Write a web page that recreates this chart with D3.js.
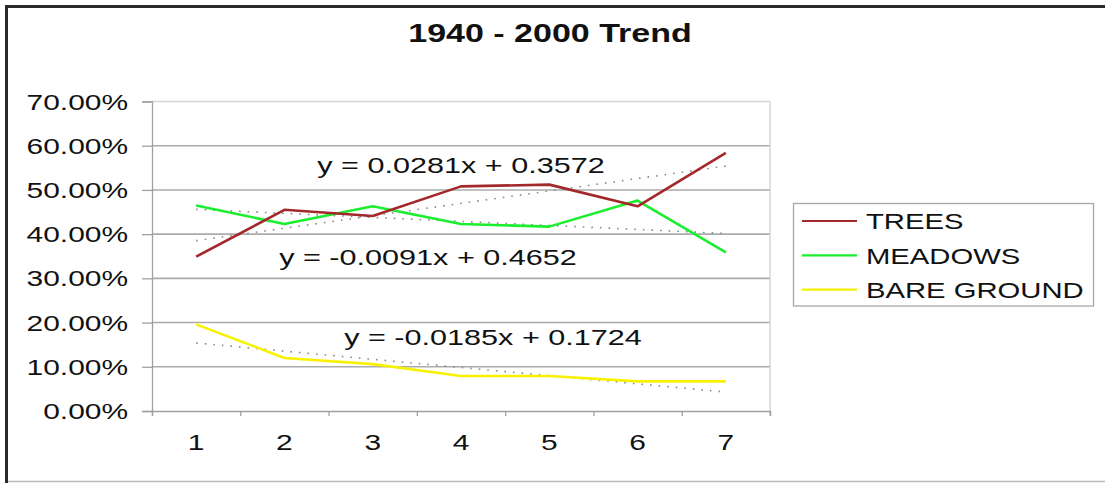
<!DOCTYPE html>
<html>
<head>
<meta charset="utf-8">
<script src="https://cdn.jsdelivr.net/npm/d3@7"></script>
<style>
  body { margin: 0; background: #fff; }
  text { font-family: "Liberation Sans", Arial, sans-serif; fill: #111; }
</style>
</head>
<body>
<svg id="chart" width="1105" height="483"></svg>
<script>
// data
var categories = ["1", "2", "3", "4", "5", "6", "7"];
var seriesNames = ["TREES", "MEADOWS", "BARE GROUND"];
var trees = [0.349, 0.455, 0.441, 0.508, 0.512, 0.463, 0.584];
var meadows = [0.465, 0.423, 0.463, 0.423, 0.417, 0.476, 0.359];
var bareGround = [0.196, 0.120, 0.106, 0.079, 0.079, 0.067, 0.067];
// linear trend y = a*x + b
var slopes = [0.0281, -0.0091, -0.0185];
var intercepts = [0.3572, 0.4652, 0.1724];
var yTicks = [0, 0.1, 0.2, 0.3, 0.4, 0.5, 0.6, 0.7];

var colors = ["#a3282b", "#1aee2e", "#f8f200"];
var STRETCH = 1.36; // text in the picture is wide

var svg = d3.select("#chart");

// outer frame
svg.append("line").attr("x1", 6.5).attr("x2", 6.5).attr("y1", 5).attr("y2", 483)
    .attr("stroke", "#2a2a2a").attr("stroke-width", 3);
svg.append("line").attr("x1", 5).attr("x2", 1105).attr("y1", 6.5).attr("y2", 6.5)
    .attr("stroke", "#2a2a2a").attr("stroke-width", 3);
svg.append("line").attr("x1", 8).attr("x2", 1105).attr("y1", 481.5).attr("y2", 481.5)
    .attr("stroke", "#bbb").attr("stroke-width", 1.5);

var plotL = 152, plotR = 770, plotT = 101.5, plotB = 411;

var x = d3.scaleBand().domain(categories).range([plotL, plotR]);
var xp = function(i) { return x(categories[i]) + x.bandwidth() / 2; };
// numeric x (1..7) for trend lines
var xn = d3.scaleLinear().domain([1, 7]).range([xp(0), xp(6)]);
var y = d3.scaleLinear().domain([0, 0.7]).range([plotB, plotT]);

function stretchedText(sel, px, py, size, anchor, txt, weight) {
    sel.append("text")
        .attr("transform", "translate(" + px + "," + py + ") scale(" + STRETCH + ",1)")
        .attr("text-anchor", anchor)
        .attr("font-size", size)
        .attr("font-weight", weight || "normal")
        .text(txt);
}

// title
stretchedText(svg, 550, 41.5, 25, "middle", "1940 - 2000 Trend", "bold");

// gridlines
svg.append("g").selectAll("line")
    .data(yTicks.filter(function(d) { return d > 0; }))
    .enter().append("line")
    .attr("x1", plotL).attr("x2", plotR)
    .attr("y1", function(d) { return y(d); })
    .attr("y2", function(d) { return y(d); })
    .attr("stroke", function(d) { return d === 0.7 ? "#d6d6d6" : "#ababab"; })
    .attr("stroke-width", 1.6);

// right edge of plot
svg.append("line").attr("x1", plotR).attr("x2", plotR).attr("y1", plotT).attr("y2", plotB + 5)
    .attr("stroke", "#cfcfcf").attr("stroke-width", 1.3);

// y axis
var yAxis = d3.axisLeft(y).tickValues(yTicks).tickSize(10).tickFormat(function() { return ""; });
var gy = svg.append("g").attr("transform", "translate(" + plotL + ",0)").call(yAxis);
gy.select(".domain").attr("stroke", "#a0a0a0").attr("stroke-width", 1.3);
gy.selectAll(".tick line").attr("stroke", "#a0a0a0").attr("stroke-width", 1.3);
yTicks.forEach(function(d) {
    stretchedText(svg, 128, y(d) + 8, 22, "end", d3.format(".2%")(d));
});

// x axis (ticks on category borders)
var xb = d3.scaleLinear().domain([0, categories.length]).range([plotL, plotR]);
var gx = svg.append("g").attr("transform", "translate(0," + plotB + ")")
    .call(d3.axisBottom(xb).ticks(categories.length).tickSize(5).tickFormat(function() { return ""; }));
gx.select(".domain").attr("stroke", "#a0a0a0").attr("stroke-width", 1.3);
gx.selectAll(".tick line").attr("stroke", "#a0a0a0").attr("stroke-width", 1.3);
categories.forEach(function(c, i) {
    stretchedText(svg, xp(i), 450, 22, "middle", c);
});

// trend lines (dotted)
var trendG = svg.append("g");
slopes.forEach(function(a, k) {
    var b = intercepts[k];
    trendG.append("line")
        .attr("x1", xn(1)).attr("y1", y(a * 1 + b))
        .attr("x2", xn(7)).attr("y2", y(a * 7 + b))
        .attr("stroke", "#8a8a8a")
        .attr("stroke-width", 1.6)
        .attr("stroke-dasharray", "1.6,7");
});

// series lines
var line = d3.line()
    .x(function(d, i) { return xp(i); })
    .y(function(d) { return y(d); });
var allSeries = [trees, meadows, bareGround];
// yellow first so the darker lines sit on top
[2, 1, 0].forEach(function(k) {
    svg.append("path")
        .datum(allSeries[k])
        .attr("d", line)
        .attr("fill", "none")
        .attr("stroke", colors[k])
        .attr("stroke-width", 2.6)
        .attr("stroke-linejoin", "round");
});

// equation labels
var eqPos = [[461, 172.5], [428, 265], [493, 344.5]];
slopes.forEach(function(a, k) {
    var txt = "y = " + d3.format(".4f")(a) + "x + " + d3.format(".4f")(intercepts[k]);
    txt = txt.replace("−", "-");
    stretchedText(svg, eqPos[k][0], eqPos[k][1], 22.5, "middle", txt);
});

// legend
var lg = svg.append("g");
lg.append("rect").attr("x", 793.5).attr("y", 203.5).attr("width", 300).attr("height", 102.5)
    .attr("fill", "#fff").attr("stroke", "#a8a8a8").attr("stroke-width", 1.3);
seriesNames.forEach(function(name, k) {
    var ly = 221 + k * 34.3;
    lg.append("line").attr("x1", 802).attr("x2", 857).attr("y1", ly).attr("y2", ly)
        .attr("stroke", colors[k]).attr("stroke-width", 2.2);
    stretchedText(lg, 866, ly + 8.3, 21.5, "start", name);
});
</script>
</body>
</html>
